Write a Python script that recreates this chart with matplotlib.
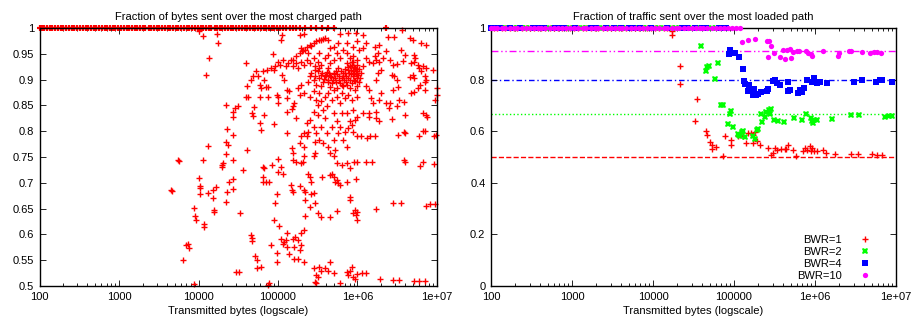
import matplotlib
matplotlib.use("Agg")
import matplotlib.pyplot as plt
from matplotlib.ticker import FixedLocator, LogLocator, NullFormatter

plt.rcParams["font.family"] = ["Liberation Sans", "DejaVu Sans"]
plt.rcParams["font.size"] = 8

# ---- left panel: fraction of bytes over the most charged path ----
# flows that sent everything over one path (fraction = 1)
charged_full_bytes = [
    100, 108, 115, 125, 135, 145, 158, 170, 185, 200, 215, 235, 255, 275, 300,
    325, 350, 380, 410, 445, 480, 520, 560, 610, 660, 710, 770, 830, 900, 980,
    1050, 1150, 1250, 1350, 1450, 1600, 1700, 1850, 2000, 2150, 2350, 2550,
    2750, 3000, 3200, 3500, 3800, 4100, 4400, 4800, 5200, 5600, 6100, 6600,
    7100, 7700, 8300, 9000, 9800, 1.06e4, 1.15e4, 1.25e4, 1.35e4, 1.45e4,
    1.6e4, 1.7e4, 1.85e4, 2.0e4, 2.15e4, 2.35e4, 2.55e4, 2.75e4, 3.0e4, 3.2e4,
    3.5e4, 3.8e4, 4.1e4, 4.4e4, 4.8e4, 5.2e4, 5.6e4, 6.1e4, 6.6e4, 7.1e4,
    7.7e4, 8.3e4, 9.0e4, 9.8e4, 1.06e5, 1.15e5, 1.25e5, 1.4e5, 1.55e5, 1.7e5,
    1.9e5, 2.2e5, 2.6e5, 3.0e5, 3.6e5, 4.3e5, 5.0e5, 2.3e6,
]

# (bytes, fraction) for the remaining flows
charged_points = [
    (1.0e4, 0.995), (1.14e4, 0.984), (1.72e4, 0.989), (1.77e4, 0.971), (1.36e4, 0.942),
    (1.26e4, 0.909), (1.13e5, 0.987), (1.1e5, 0.976), (1.87e5, 0.986), (2.1e5, 0.988),
    (5.96e5, 0.988), (7.6e5, 0.99), (9.5e5, 0.99), (1.17e6, 0.987), (2.4e6, 0.982),
    (2.9e6, 0.982), (3.6e6, 0.997), (4.6e6, 0.981), (5.0e6, 0.977), (6.3e6, 0.971),
    (7.3e6, 0.968),
    # arc towards 0.98
    (1.55e5, 0.938), (1.7e5, 0.945), (1.87e5, 0.951), (2.07e5, 0.958), (2.3e5, 0.964),
    (2.5e5, 0.968), (2.8e5, 0.971), (3.0e5, 0.974), (3.3e5, 0.976), (3.7e5, 0.979),
    (3.9e5, 0.98), (4.3e5, 0.977), (4.5e5, 0.961), (5.0e5, 0.964), (1.97e5, 0.961),
    (2.2e5, 0.958), (2.4e5, 0.951), (2.6e5, 0.966), (3.5e5, 0.977), (2.0e5, 0.955),
    # 0.91 - 0.95 band
    (1.0e5, 0.935), (1.07e5, 0.929), (1.15e5, 0.938), (1.25e5, 0.926), (1.35e5, 0.932),
    (1.45e5, 0.938), (1.55e5, 0.926), (1.7e5, 0.932), (1.8e5, 0.922), (1.97e5, 0.935),
    (2.15e5, 0.929), (2.3e5, 0.938), (2.5e5, 0.932), (2.8e5, 0.942), (2.9e5, 0.926),
    (3.2e5, 0.935), (3.3e5, 0.951), (3.5e5, 0.929), (3.9e5, 0.942), (4.3e5, 0.948),
    (4.5e5, 0.932), (5.0e5, 0.938), (5.5e5, 0.951), (5.96e5, 0.942), (6.6e5, 0.958),
    (7.3e5, 0.951), (8.0e5, 0.942), (8.5e5, 0.935), (8.9e5, 0.945), (9.8e5, 0.938),
    (1.06e6, 0.958), (1.17e6, 0.961), (1.28e6, 0.942), (1.41e6, 0.935), (1.55e6, 0.932),
    (1.8e6, 0.951), (2.1e6, 0.942), (2.3e6, 0.955), (2.55e6, 0.938), (1.86e6, 0.968),
    (1.65e6, 0.964), (1.28e6, 0.971), (1.0e6, 0.974), (8.9e5, 0.964), (7.3e5, 0.971),
    (5.7e5, 0.971),
    (7.2e4, 0.919), (8.1e4, 0.922), (8.9e4, 0.918), (9.3e4, 0.926), (6.5e4, 0.916),
    (5.6e4, 0.906), (5.3e4, 0.916), (4.9e4, 0.906), (4.6e4, 0.9), (4.1e4, 0.887),
    (4.2e4, 0.867), (4.0e4, 0.932), (6.7e4, 0.9), (7.5e4, 0.885), (8.6e4, 0.95),
    (1.13e5, 0.909), (1.2e5, 0.9),
    # dense cluster around 0.9
    (2.5e5, 0.906), (2.6e5, 0.913), (2.8e5, 0.9), (2.95e5, 0.907), (3.2e5, 0.916),
    (3.3e5, 0.903), (3.5e5, 0.909), (3.7e5, 0.896), (3.9e5, 0.906), (4.1e5, 0.914),
    (4.3e5, 0.9), (4.5e5, 0.907), (4.8e5, 0.893), (5.0e5, 0.913), (5.2e5, 0.903),
    (5.4e5, 0.896), (5.6e5, 0.91), (5.9e5, 0.9), (6.2e5, 0.916), (6.4e5, 0.89),
    (6.6e5, 0.906), (7.0e5, 0.913), (7.2e5, 0.896), (7.5e5, 0.919), (7.7e5, 0.903),
    (8.0e5, 0.926), (8.3e5, 0.91), (8.5e5, 0.893), (8.8e5, 0.916), (9.0e5, 0.9),
    (9.3e5, 0.922), (9.5e5, 0.91), (9.8e5, 0.929), (9.9e5, 0.903), (1.0e6, 0.916),
    (1.04e6, 0.896), (9.8e5, 0.887), (8.0e5, 0.883), (6.6e5, 0.887), (5.5e5, 0.883),
    (4.5e5, 0.885), (3.5e5, 0.887), (3.0e5, 0.89), (2.4e5, 0.896), (5.7e5, 0.922),
    (7.3e5, 0.932), (8.9e5, 0.935), (1.12e6, 0.913), (1.17e6, 0.926), (3.3e5, 0.922),
    (4.3e5, 0.922), (2.9e5, 0.919),
    (3.6e5, 0.912), (3.8e5, 0.902), (4.0e5, 0.908), (4.2e5, 0.895), (4.4e5, 0.913),
    (4.7e5, 0.905), (4.9e5, 0.899), (5.1e5, 0.91), (5.3e5, 0.917), (5.8e5, 0.906),
    (6.0e5, 0.893), (6.3e5, 0.903), (6.5e5, 0.913), (6.8e5, 0.9), (7.1e5, 0.907),
    (7.4e5, 0.89), (7.8e5, 0.912), (8.1e5, 0.9), (8.4e5, 0.918), (8.7e5, 0.906),
    (9.1e5, 0.913), (9.4e5, 0.897), (9.7e5, 0.92), (1.02e6, 0.908), (1.06e6, 0.921),
    (1.09e6, 0.904), (8.6e5, 0.928), (9.0e5, 0.925), (7.6e5, 0.924), (6.9e5, 0.92),
    # 0.85 - 0.89
    (1.3e5, 0.88), (1.38e5, 0.877), (1.28e5, 0.864), (1.55e5, 0.848), (1.6e5, 0.854),
    (1.5e5, 0.843), (1.8e5, 0.884), (1.97e5, 0.89), (1.87e5, 0.87), (2.15e5, 0.874),
    (2.5e5, 0.867), (2.8e5, 0.877), (3.0e5, 0.861), (3.2e5, 0.851), (3.3e5, 0.874),
    (3.5e5, 0.858), (3.9e5, 0.867), (4.1e5, 0.848), (4.3e5, 0.874), (4.8e5, 0.861),
    (5.0e5, 0.88), (5.5e5, 0.867), (5.96e5, 0.854), (6.4e5, 0.874), (7.0e5, 0.864),
    (7.7e5, 0.87), (8.5e5, 0.861), (9.3e5, 0.88), (9.8e5, 0.867), (1.28e6, 0.888),
    (1.41e6, 0.88), (1.48e6, 0.864), (1.55e6, 0.854), (1.7e6, 0.9), (1.8e6, 0.913),
    (2.0e6, 0.874), (1.86e6, 0.861), (2.3e6, 0.854), (2.5e6, 0.845), (2.7e6, 0.909),
    (2.9e6, 0.906), (3.1e6, 0.9), (2.8e6, 0.88), (3.2e6, 0.885), (2.8e6, 0.929),
    (3.1e6, 0.931), (3.3e6, 0.861), (3.8e6, 0.856), (3.1e6, 0.849), (3.7e6, 0.937),
    (3.5e6, 0.957), (4.0e6, 0.948), (4.7e6, 0.932), (5.2e6, 0.935), (5.8e6, 0.929),
    (6.0e6, 0.922), (6.7e6, 0.926), (7.3e6, 0.922), (6.3e6, 0.916), (7.0e6, 0.906),
    (5.2e6, 0.903), (5.0e6, 0.909), (4.6e6, 0.905), (4.7e6, 0.874), (5.2e6, 0.875),
    (5.8e6, 0.883), (6.1e6, 0.889), (7.0e6, 0.896), (7.3e6, 0.9), (7.0e6, 0.88),
    (8.8e6, 0.918), (9.4e6, 0.861), (9.9e6, 0.87), (9.9e6, 0.883), (5.1e6, 0.948),
    (5.3e6, 0.942), (1.65e6, 0.945), (1.7e6, 0.938), (2.0e6, 0.919), (1.86e6, 0.935),
    (1.41e6, 0.828), (1.38e6, 0.835), (1.3e6, 0.786), (1.43e6, 0.791), (1.28e6, 0.74),
    (1.52e6, 0.74),
    (9.8e4, 0.87), (1.0e5, 0.867), (1.0e5, 0.854), (7.1e4, 0.885), (7.4e4, 0.867),
    (6.0e4, 0.89), (6.1e4, 0.883), (6.0e4, 0.867), (4.7e4, 0.835), (4.8e4, 0.83),
    (5.0e4, 0.847), (6.7e4, 0.832), (4.0e4, 0.867), (1.3e5, 0.838), (1.7e5, 0.825),
    # 0.75 - 0.85
    (2.75e4, 0.838), (2.75e4, 0.828), (2.9e4, 0.845), (3.1e4, 0.849), (2.2e4, 0.851),
    (2.3e4, 0.804), (2.75e4, 0.793), (2.25e4, 0.78), (2.35e4, 0.774), (2.25e4, 0.756),
    (4.1e4, 0.764), (6.0e4, 0.815), (6.1e4, 0.802), (8.8e4, 0.813), (1.3e5, 0.796),
    (1.87e5, 0.777), (1.97e5, 0.79), (2.15e5, 0.796), (2.3e5, 0.815), (2.4e5, 0.799),
    (2.3e5, 0.79), (2.15e5, 0.77), (1.5e5, 0.767), (1.55e5, 0.757), (2.5e5, 0.822),
    (2.8e5, 0.809), (2.9e5, 0.78), (3.0e5, 0.796), (3.2e5, 0.832), (3.3e5, 0.783),
    (3.5e5, 0.809), (3.7e5, 0.777), (3.9e5, 0.825), (4.1e5, 0.796), (4.3e5, 0.77),
    (4.5e5, 0.757), (4.8e5, 0.809), (5.0e5, 0.783), (5.2e5, 0.764), (5.5e5, 0.819),
    (5.7e5, 0.796), (5.96e5, 0.809), (6.6e5, 0.783), (7.0e5, 0.799), (7.3e5, 0.77),
    (7.7e5, 0.806), (8.0e5, 0.819), (8.5e5, 0.812), (8.9e5, 0.799), (9.3e5, 0.822),
    (9.8e5, 0.828), (1.0e6, 0.79), (1.12e6, 0.79), (1.17e6, 0.835), (8.9e5, 0.841),
    (7.3e5, 0.835), (6.4e5, 0.835), (5.0e5, 0.835), (3.7e5, 0.841), (2.8e5, 0.838),
    (1.7e6, 0.838), (1.7e6, 0.825), (1.86e6, 0.819), (1.65e6, 0.79), (2.7e6, 0.823),
    (3.2e6, 0.793), (3.9e6, 0.799), (4.0e6, 0.797), (4.0e6, 0.832), (5.9e6, 0.79),
    (6.6e6, 0.801), (7.0e6, 0.8), (6.6e6, 0.835), (7.3e6, 0.832), (7.5e6, 0.828),
    (9.3e6, 0.79), (9.6e6, 0.793), (2.6e6, 0.854),
    # 0.70 - 0.75
    (6.5e4, 0.731), (6.7e4, 0.728), (6.5e4, 0.702), (7.1e4, 0.702), (7.7e4, 0.702),
    (6.5e4, 0.712), (8.3e4, 0.734), (9.9e4, 0.721), (1.0e5, 0.747), (1.1e5, 0.731),
    (1.15e5, 0.718), (1.55e5, 0.745), (1.7e5, 0.741), (1.97e5, 0.738), (2.05e5, 0.741),
    (2.15e5, 0.751), (2.4e5, 0.718), (2.5e5, 0.712), (2.6e5, 0.702), (2.8e5, 0.751),
    (2.9e5, 0.757), (3.6e5, 0.712), (4.5e5, 0.715), (4.8e5, 0.718), (5.0e5, 0.712),
    (5.2e5, 0.702), (5.5e5, 0.705), (5.7e5, 0.699), (5.96e5, 0.696), (5.0e5, 0.751),
    (5.5e5, 0.738), (6.4e5, 0.734), (7.3e5, 0.738), (8.0e5, 0.728), (9.0e5, 0.741),
    (9.8e5, 0.741), (9.5e5, 0.708), (7.3e5, 0.702),
    # below 0.70
    (1.45e5, 0.695), (1.5e5, 0.686), (1.55e5, 0.683), (1.87e5, 0.693), (2.1e5, 0.686),
    (2.2e5, 0.683), (2.2e5, 0.666), (2.6e5, 0.679), (2.8e5, 0.681), (2.95e5, 0.66),
    (2.2e5, 0.635), (2.5e5, 0.653), (3.2e5, 0.641), (3.5e5, 0.634), (4.5e5, 0.633),
    (5.6e5, 0.646), (8.0e5, 0.673), (8.0e5, 0.666), (8.9e5, 0.641), (9.3e5, 0.647),
    (9.5e5, 0.637), (9.8e5, 0.628), (1.0e6, 0.644), (1.7e6, 0.65), (2.8e6, 0.66),
    (3.5e6, 0.66), (7.3e6, 0.655), (8.1e6, 0.659), (9.4e6, 0.659),
    (1.03e5, 0.616), (9.3e4, 0.661), (9.6e4, 0.679), (8.8e4, 0.628), (8.2e4, 0.579),
    (9.6e4, 0.563), (9.6e4, 0.547), (1.1e5, 0.592), (1.17e5, 0.582), (1.25e5, 0.589),
    (1.28e5, 0.576), (1.2e5, 0.585), (1.3e5, 0.602), (1.38e5, 0.562), (1.55e5, 0.592),
    (1.65e5, 0.595), (1.8e5, 0.589), (1.95e5, 0.579), (1.97e5, 0.602), (2.1e5, 0.608),
    (1.9e5, 0.569), (1.6e5, 0.576), (1.6e5, 0.553), (1.8e5, 0.553), (2.1e5, 0.547),
    (2.8e5, 0.534), (3.0e5, 0.521), (3.2e5, 0.517), (3.3e5, 0.537), (3.5e5, 0.53),
    (3.9e5, 0.534), (4.3e5, 0.53), (5.0e5, 0.525), (4.5e5, 0.547), (2.9e5, 0.508),
    (3.0e5, 0.505), (5.96e5, 0.505), (7.3e5, 0.527), (7.7e5, 0.521), (8.5e5, 0.537),
    (8.9e5, 0.517), (8.0e5, 0.53), (9.3e5, 0.514), (9.9e5, 0.524), (1.15e6, 0.525),
    (1.28e6, 0.526), (1.9e6, 0.513), (2.8e6, 0.511), (3.3e6, 0.512), (5.2e6, 0.509),
    (6.0e6, 0.509), (7.0e6, 0.509), (9.3e6, 0.737), (6.1e6, 0.733), (6.7e6, 0.741),
    (3.9e6, 0.744), (4.0e6, 0.74),
    (4.6e4, 0.598), (4.7e4, 0.593), (4.7e4, 0.587), (5.2e4, 0.558), (5.4e4, 0.55),
    (5.5e4, 0.534), (6.1e4, 0.537), (7.6e4, 0.505), (7.4e4, 0.501), (3.0e4, 0.528),
    (3.2e4, 0.527), (3.3e4, 0.641), (3.6e4, 0.725), (2.75e4, 0.707), (2.75e4, 0.688),
    (2.75e4, 0.744), (2.4e4, 0.701), (2.3e4, 0.683), (2.2e4, 0.663), (1.95e4, 0.734),
    (2.0e4, 0.731), (2.05e4, 0.738), (1.65e4, 0.692), (1.55e4, 0.647), (1.55e4, 0.643),
    (1.5e4, 0.67), (1.5e4, 0.686), (1.3e4, 0.681), (1.3e4, 0.771), (1.14e4, 0.744),
    (1.17e4, 0.62), (1.17e4, 0.615), (1.0e4, 0.71), (1.04e4, 0.694), (1.04e4, 0.689),
    (1.05e4, 0.678), (8.9e3, 0.652), (9.1e3, 0.635), (9.2e3, 0.628), (8.7e3, 0.503),
    (6.9e3, 0.579), (7.3e3, 0.582), (7.5e3, 0.573), (6.3e3, 0.55), (5.6e3, 0.745),
    (5.7e3, 0.742), (4.5e3, 0.687), (4.6e3, 0.684),
]

# ---- right panel: fraction of traffic over the most loaded path ----
bwr_labels = ["BWR=1", "BWR=2", "BWR=4", "BWR=10"]
bwr_optimum = [0.5, 0.6667, 0.8, 0.9091]   # expected share of the fast path

# bytes at which each BWR still sends everything over one path
loaded_full_bytes = [
    100, 110, 120, 135, 150, 170, 190, 210, 240, 270, 300, 340, 380, 420, 470,
    530, 600, 670, 750, 850, 950, 1050, 1200, 1350, 1500, 1700, 1900, 2100,
    2400, 2700, 3000, 3400, 3800, 4200, 4700, 5300, 6000, 6700, 7500, 8500,
    9500, 1.05e4, 1.2e4, 1.35e4, 1.5e4, 1.7e4, 1.9e4, 2.1e4, 2.4e4, 2.7e4,
    3.0e4, 3.4e4, 3.8e4, 4.2e4, 4.7e4, 5.3e4, 6.0e4, 6.7e4, 7.5e4, 8.5e4,
    9.5e4, 1.05e5, 1.2e5,
]
bwr4_full_bytes = [
    100, 110, 130, 170, 230, 330, 350, 380, 450, 620, 680, 800, 1100, 1700,
    1800, 2000, 2600, 3300, 4000, 5100, 5600, 7000, 9500, 1.5e4, 2.3e4, 2.6e4,
    3.3e4, 4.0e4, 4.5e4, 6.5e4, 7.0e4, 8.0e4,
]
full_limit = [1.7e4, 6.0e4, None, 1.2e5]

bwr1_points = [
    (1.7e4, 0.99), (1.7e4, 0.973), (2.15e4, 0.852), (2.15e4, 0.781), (3.5e4, 0.723),
    (3.3e4, 0.64), (4.5e4, 0.6), (4.7e4, 0.587), (5.0e4, 0.557), (5.3e4, 0.548),
    (5.4e4, 0.532), (6.0e4, 0.54), (7.3e4, 0.503), (7.8e4, 0.581), (9.1e4, 0.565),
    (9.1e4, 0.548), (1.12e5, 0.581), (1.2e5, 0.587), (1.3e5, 0.581), (1.4e5, 0.553),
    (1.5e5, 0.594), (1.6e5, 0.594), (1.7e5, 0.555), (1.7e5, 0.587), (1.8e5, 0.596),
    (1.9e5, 0.561), (2.1e5, 0.548), (2.6e5, 0.534), (2.85e5, 0.509), (3.0e5, 0.516),
    (3.2e5, 0.535), (3.4e5, 0.529), (3.8e5, 0.531), (4.3e5, 0.531), (4.7e5, 0.548),
    (4.4e5, 0.531), (5.4e5, 0.526), (5.9e5, 0.505), (7.2e5, 0.525), (7.6e5, 0.535),
    (8.0e5, 0.526), (8.6e5, 0.542), (8.9e5, 0.522), (9.3e5, 0.535), (9.8e5, 0.522),
    (1.05e6, 0.522), (1.26e6, 0.529), (1.35e6, 0.516), (1.77e6, 0.513), (2.8e6, 0.51),
    (3.4e6, 0.513), (5.1e6, 0.51), (5.8e6, 0.509), (6.8e6, 0.509),
]
bwr2_points = [
    (3.95e4, 0.931), (4.55e4, 0.834), (4.7e4, 0.847), (4.85e4, 0.853), (6.35e4, 0.866),
    (5.8e4, 0.801), (6.9e4, 0.703), (7.4e4, 0.703), (9.1e4, 0.678), (8.8e4, 0.665),
    (8.4e4, 0.626), (9.7e4, 0.617), (1.12e5, 0.59), (1.16e5, 0.587), (1.2e5, 0.583),
    (1.25e5, 0.596), (1.3e5, 0.6), (1.35e5, 0.578), (1.7e5, 0.581), (1.8e5, 0.57),
    (1.9e5, 0.604), (2.0e5, 0.609), (2.15e5, 0.668), (2.2e5, 0.636), (2.4e5, 0.656),
    (2.5e5, 0.675), (2.7e5, 0.684), (2.9e5, 0.687), (2.8e5, 0.665), (3.1e5, 0.643),
    (3.5e5, 0.638), (4.2e5, 0.634), (5.5e5, 0.651), (6.9e5, 0.645), (7.8e5, 0.668),
    (8.8e5, 0.652), (9.1e5, 0.639), (9.4e5, 0.63), (9.6e5, 0.645), (1.05e6, 0.643),
    (1.6e6, 0.649), (2.8e6, 0.661), (3.5e6, 0.661), (7.4e6, 0.656), (8.1e6, 0.658),
    (8.9e6, 0.66),
]
bwr4_points = [
    (8.6e4, 0.899), (9.0e4, 0.916), (1.02e5, 0.905), (1.15e5, 0.886), (1.3e5, 0.84),
    (1.33e5, 0.795), (1.35e5, 0.782), (1.55e5, 0.778), (1.5e5, 0.756), (1.75e5, 0.765),
    (1.7e5, 0.74), (1.85e5, 0.739), (2.0e5, 0.743), (2.15e5, 0.752), (2.55e5, 0.756),
    (2.65e5, 0.762), (3.0e5, 0.795), (3.2e5, 0.799), (3.4e5, 0.788), (3.7e5, 0.778),
    (4.6e5, 0.791), (4.6e5, 0.756), (4.9e5, 0.76), (6.2e5, 0.749), (6.6e5, 0.76),
    (7.0e5, 0.752), (7.4e5, 0.769), (8.0e5, 0.797), (9.1e5, 0.791), (9.6e5, 0.806),
    (1.05e6, 0.788), (1.15e6, 0.791), (1.4e6, 0.788), (3.0e6, 0.792), (3.8e6, 0.799),
    (5.6e6, 0.792), (6.3e6, 0.799), (6.8e6, 0.799), (8.8e6, 0.791),
]
bwr10_points = [
    (1.27e5, 0.947), (1.48e5, 0.952), (1.8e5, 0.957), (2.55e5, 0.951), (2.7e5, 0.948),
    (2.85e5, 0.931), (2.6e5, 0.888), (3.1e5, 0.905), (3.7e5, 0.888), (4.05e5, 0.914),
    (4.3e5, 0.879), (4.45e5, 0.916), (4.9e5, 0.918), (5.0e5, 0.882), (5.4e5, 0.908),
    (6.0e5, 0.912), (6.4e5, 0.912), (7.8e5, 0.909), (8.3e5, 0.905), (8.9e5, 0.899),
    (9.3e5, 0.892), (1.25e6, 0.912), (1.9e6, 0.892), (2.0e6, 0.905), (2.6e6, 0.909),
    (2.8e6, 0.91), (3.8e6, 0.908), (4.8e6, 0.905), (5.3e6, 0.908), (5.9e6, 0.908),
    (6.6e6, 0.905),
]

x_tick_vals = [1e2, 1e3, 1e4, 1e5, 1e6, 1e7]
x_tick_labels = ["100", "1000", "10000", "100000", "1e+06", "1e+07"]
left_y_ticks = [0.5, 0.55, 0.6, 0.65, 0.7, 0.75, 0.8, 0.85, 0.9, 0.95, 1.0]
left_y_labels = ["0.5", "0.55", "0.6", "0.65", "0.7", "0.75", "0.8", "0.85", "0.9", "0.95", "1"]
right_y_ticks = [0, 0.2, 0.4, 0.6, 0.8, 1.0]
right_y_labels = ["0", "0.2", "0.4", "0.6", "0.8", "1"]


def style_axes(ax, yticks, ylabels):
    ax.set_xscale("log")
    ax.set_xlim(100, 1e7)
    ax.xaxis.set_major_locator(FixedLocator(x_tick_vals))
    ax.set_xticklabels(x_tick_labels)
    ax.xaxis.set_minor_locator(LogLocator(base=10, subs=range(2, 10)))
    ax.xaxis.set_minor_formatter(NullFormatter())
    ax.set_yticks(yticks)
    ax.set_yticklabels(ylabels)
    ax.tick_params(which="both", direction="in", top=True, right=True, labelsize=8,
                   width=0.6, pad=4)
    ax.tick_params(which="major", length=4)
    ax.tick_params(which="minor", length=2)
    for s in ax.spines.values():
        s.set_linewidth(1.0)
    ax.set_xlabel("Transmitted bytes (logscale)", fontsize=8, labelpad=3)


fig = plt.figure(figsize=(9.13, 3.24), dpi=100)
ax1 = fig.add_axes([0.0433, 0.1173, 0.4353, 0.7963])
ax2 = fig.add_axes([0.5378, 0.1173, 0.4436, 0.7963])

red, green, blue, magenta = "#ff0000", "#00ff00", "#0000ff", "#ff00ff"

# left
ax1.plot(charged_full_bytes, [1.0] * len(charged_full_bytes), "+", color=red,
         ms=5, mew=1.6, clip_on=False)
ax1.plot([p[0] for p in charged_points], [p[1] for p in charged_points], "+",
         color=red, ms=5, mew=1.0, clip_on=False)
ax1.set_ylim(0.5, 1.0)
style_axes(ax1, left_y_ticks, left_y_labels)
ax1.set_title("Fraction of bytes sent over the most charged path", fontsize=8, pad=6)

# right
styles = [
    dict(marker="+", color=red, ms=5, mew=1.0),
    dict(marker="X", color=green, ms=5, mew=0.0),
    dict(marker="s", color=blue, ms=4.8, mew=0.0),
    dict(marker="o", color=magenta, ms=3.8, mew=0.0),
]
line_styles = ["--", ":", (0, (4, 2, 1, 2)), (0, (5, 2, 1, 2, 1, 2))]
series = [bwr1_points, bwr2_points, bwr4_points, bwr10_points]

for opt, ls, st in zip(bwr_optimum, line_styles, styles):
    ax2.axhline(opt, color=st["color"], linestyle=ls, linewidth=1.0, zorder=1)

for i, (pts, st, lab) in enumerate(zip(series, styles, bwr_labels)):
    if i == 2:
        full = bwr4_full_bytes
    else:
        full = [b for b in loaded_full_bytes if b <= full_limit[i]]
    xs = full + [p[0] for p in pts]
    ys = [1.0] * len(full) + [p[1] for p in pts]
    ax2.plot(xs, ys, linestyle="none", label=lab, zorder=2 + i, clip_on=False, **st)

ax2.set_ylim(0, 1.0)
style_axes(ax2, right_y_ticks, right_y_labels)
ax2.set_title("Fraction of traffic sent over the most loaded path", fontsize=8, pad=6)
# markerfirst=False right-aligns the rows, like the gnuplot key
ax2.legend(loc="lower right", frameon=False, markerfirst=False, fontsize=8,
           handlelength=1.0, handletextpad=1.6, labelspacing=0.2,
           borderaxespad=0.3, bbox_to_anchor=(0.956, -0.012))

fig.savefig("out.png", dpi=100)
